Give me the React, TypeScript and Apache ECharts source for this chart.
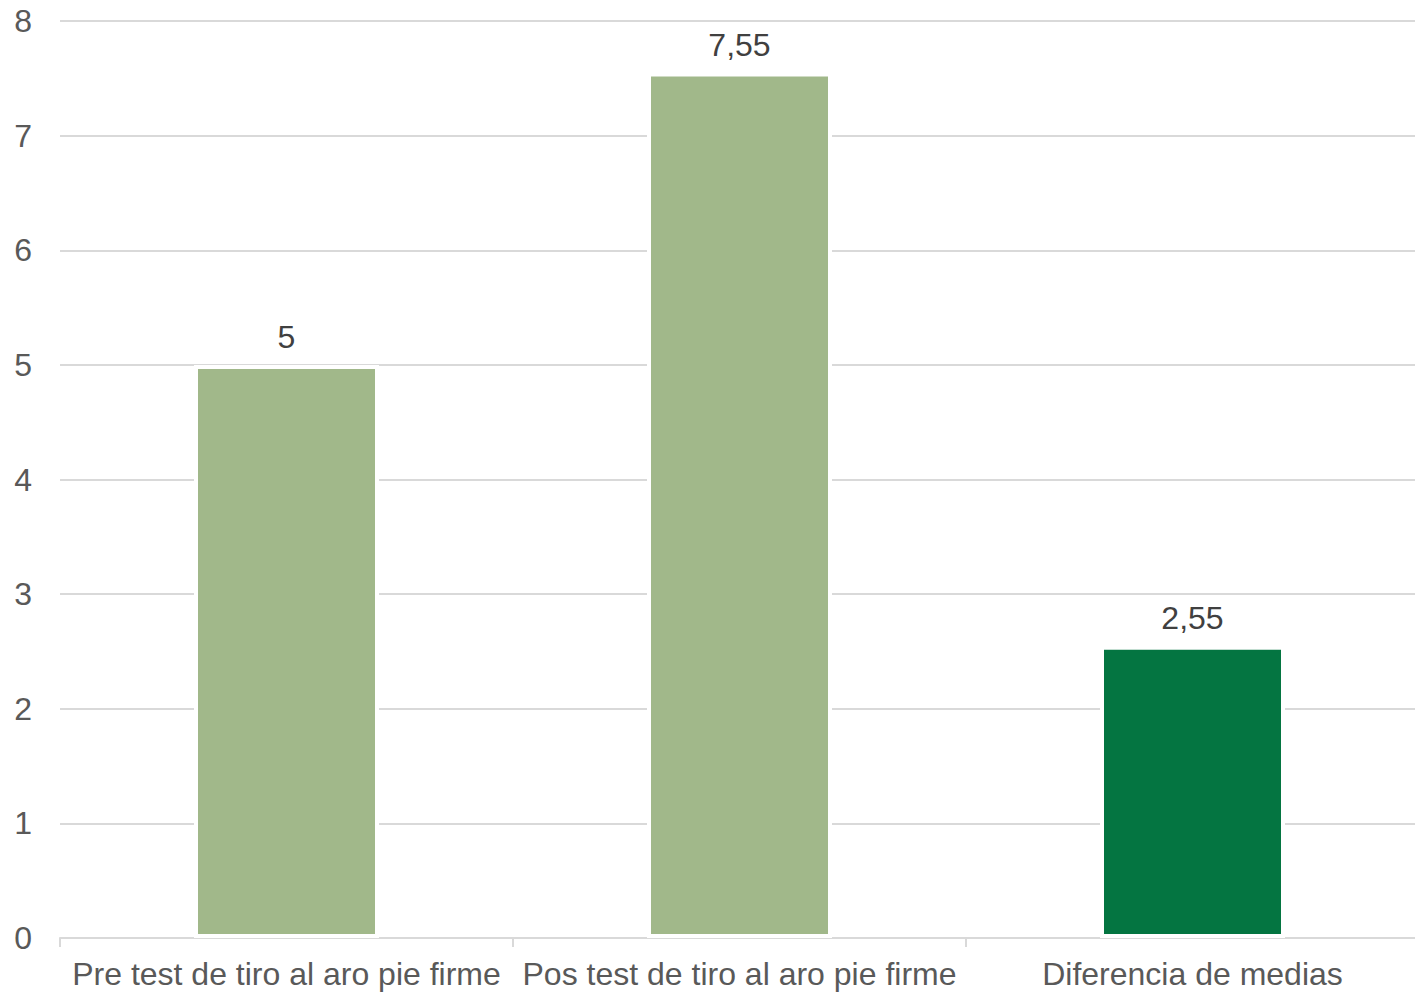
import React, { useEffect, useRef } from "react";
import * as echarts from "echarts";

const categories = [
  "Pre test de tiro al aro pie firme",
  "Pos test de tiro al aro pie firme",
  "Diferencia de medias",
];
const values = [5, 7.55, 2.55];
const barColors = ["#A1B88A", "#A1B88A", "#047541"];
const yTicks = { min: 0, max: 8, interval: 1 };

export default function App() {
  const ref = useRef<HTMLDivElement>(null);
  useEffect(() => {
    const chart = echarts.init(ref.current!, undefined, { renderer: "svg" });
    chart.setOption({
      animation: false,
      backgroundColor: "#ffffff",
      grid: { left: 60, right: 0, top: 21, bottom: 58, containLabel: false },
      xAxis: {
        type: "category",
        data: categories,
        boundaryGap: true,
        axisLine: { show: true, lineStyle: { color: "#D9D9D9", width: 2 } },
        axisTick: { show: true, length: 9, lineStyle: { color: "#D9D9D9", width: 2 } },
        axisLabel: {
          color: "#595959",
          fontSize: 32,
          fontFamily: "Liberation Sans, Arial, sans-serif",
          margin: 20,
          interval: 0,
        },
      },
      yAxis: {
        type: "value",
        min: yTicks.min,
        max: yTicks.max,
        interval: yTicks.interval,
        axisLine: { show: false },
        axisTick: { show: false },
        splitLine: { lineStyle: { color: "#D9D9D9", width: 2 } },
        axisLabel: {
          color: "#595959",
          fontSize: 32,
          fontFamily: "Liberation Sans, Arial, sans-serif",
          margin: 28,
        },
      },
      series: [
        {
          type: "bar",
          data: values.map((v, i) => ({
            value: v,
            itemStyle: { color: barColors[i] },
          })),
          barWidth: 185,
          itemStyle: { borderColor: "#ffffff", borderWidth: 4 },
          label: {
            show: true,
            position: "top",
            distance: 12,
            color: "#404040",
            fontSize: 32,
            fontFamily: "Liberation Sans, Arial, sans-serif",
            formatter: (p: any) => String(p.value).replace(".", ","),
          },
        },
      ],
    });
    return () => chart.dispose();
  }, []);
  return (
    <div
      style={{
        position: "fixed",
        left: 0,
        top: 0,
        width: 1415,
        height: 996,
        overflow: "hidden",
        background: "#ffffff",
      }}
    >
      <div ref={ref} style={{ width: 1419, height: 996 }} />
    </div>
  );
}
